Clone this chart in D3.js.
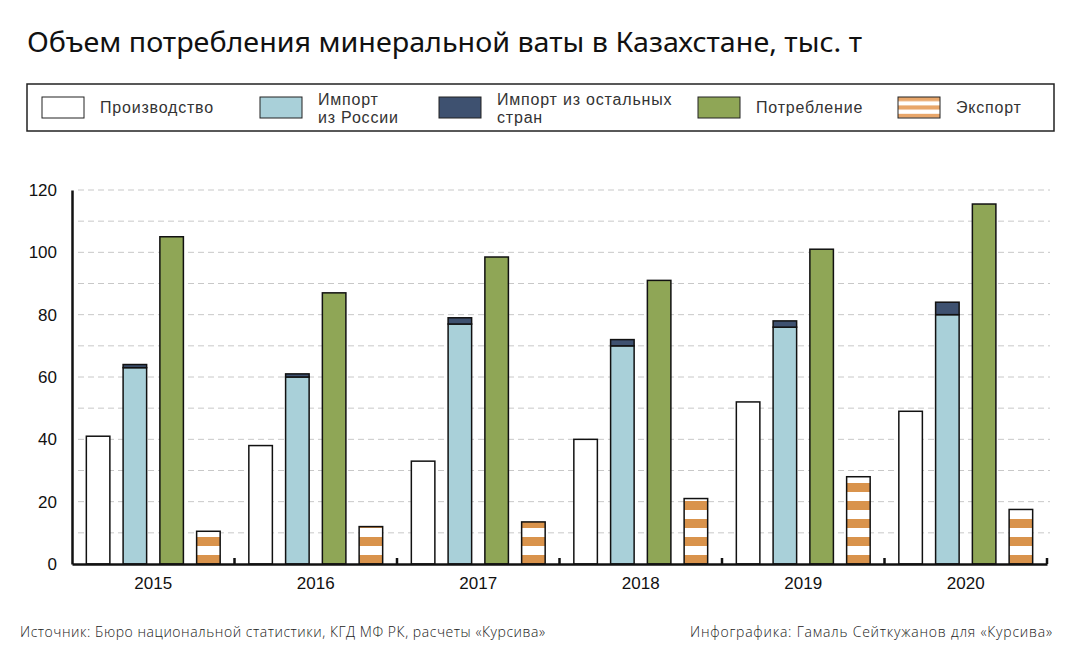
<!DOCTYPE html>
<html>
<head>
<meta charset="utf-8">
<script src="https://cdn.jsdelivr.net/npm/d3@7"></script>
<style>
  body { margin: 0; background: #fff; }
  svg { display: block; }
</style>
</head>
<body>
<svg id="chart" width="1082" height="649"></svg>
<script>
// Data (тыс. т)
const years = ['2015', '2016', '2017', '2018', '2019', '2020'];
const production = [41, 38, 33, 40, 52, 49];
const importRussia = [63, 60, 77, 70, 76, 80];
const importOther = [1, 1, 2, 2, 2, 4];
const consumption = [105, 87, 98.5, 91, 101, 115.5];
const exportVals = [10.5, 12, 13.5, 21, 28, 17.5];
const yTicks = [0, 20, 40, 60, 80, 100, 120];

const colors = {
  production: '#ffffff',
  russia: '#a9d0d9',
  other: '#3e5170',
  consumption: '#8fa656',
  export: '#d9934c'
};

const svg = d3.select('#chart');
const margin = { left: 72, right: 35, top: 190, bottom: 85 };
const width = 1082;
const height = 649;
const x0 = margin.left, x1 = width - margin.right;
const yBase = height - margin.bottom;

const x = d3.scaleBand().domain(years).range([x0, x1]).padding(0);
const xs = d3.scaleBand()
  .domain(['prod', 'imp', 'cons', 'exp'])
  .range([0, x.bandwidth()])
  .paddingInner(0.36)
  .paddingOuter(0.39);
const y = d3.scaleLinear().domain([0, 120]).range([yBase, margin.top]);

// stripe pattern for export, anchored to the baseline
const defs = svg.append('defs');
const pat = defs.append('pattern')
  .attr('id', 'stripes')
  .attr('patternUnits', 'userSpaceOnUse')
  .attr('x', 0).attr('y', yBase)
  .attr('width', 10).attr('height', 18);
pat.append('rect').attr('width', 10).attr('height', 18).attr('fill', '#fff');
pat.append('rect').attr('y', 9).attr('width', 10).attr('height', 9).attr('fill', colors.export);

const legPat = defs.append('pattern')
  .attr('id', 'stripesLegend')
  .attr('patternUnits', 'userSpaceOnUse')
  .attr('x', 0).attr('y', 97)
  .attr('width', 10).attr('height', 8.4);
legPat.append('rect').attr('width', 10).attr('height', 8.4).attr('fill', '#e8a66a');
legPat.append('rect').attr('y', 4.2).attr('width', 10).attr('height', 4.2).attr('fill', '#fff');

// Title
svg.append('text')
  .attr('x', 27).attr('y', 52)
  .attr('textLength', 835)
  .attr('lengthAdjust', 'spacingAndGlyphs')
  .style('font-family', '"Noto Sans", sans-serif')
  .style('font-size', '28px')
  .style('font-weight', 400)
  .style('fill', '#111')
  .text('Объем потребления минеральной ваты в Казахстане, тыс. т');

// Legend
svg.append('rect')
  .attr('x', 27).attr('y', 84).attr('width', 1027).attr('height', 47)
  .attr('fill', '#fff').attr('stroke', '#222').attr('stroke-width', 1.5);

const legendItems = [
  { x: 42, fill: colors.production, lines: ['Производство'] },
  { x: 260, fill: colors.russia, lines: ['Импорт', 'из России'] },
  { x: 439, fill: colors.other, lines: ['Импорт из остальных', 'стран'] },
  { x: 698, fill: colors.consumption, lines: ['Потребление'] },
  { x: 898, fill: 'url(#stripesLegend)', lines: ['Экспорт'] }
];
const lg = svg.append('g');
legendItems.forEach(d => {
  lg.append('rect')
    .attr('x', d.x).attr('y', 97).attr('width', 42).attr('height', 21)
    .attr('fill', d.fill).attr('stroke', '#222').attr('stroke-width', 1);
  const t = lg.append('text')
    .attr('x', d.x + 58)
    .style('font-family', '"Liberation Sans", Arial, sans-serif')
    .style('font-size', '16px')
    .style('letter-spacing', '0.8px')
    .style('fill', '#333');
  if (d.lines.length === 1) {
    t.attr('y', 113).text(d.lines[0]);
  } else {
    t.append('tspan').attr('x', d.x + 58).attr('y', 105).text(d.lines[0]);
    t.append('tspan').attr('x', d.x + 58).attr('y', 123).text(d.lines[1]);
  }
});

// Gridlines every 10
const grid = d3.range(10, 121, 10);
svg.append('g')
  .selectAll('line')
  .data(grid)
  .join('line')
  .attr('x1', x0 + 6).attr('x2', x1 + 3)
  .attr('y1', d => y(d)).attr('y2', d => y(d))
  .attr('stroke', '#c8c8c8')
  .attr('stroke-width', 1)
  .attr('stroke-dasharray', '6,4');

// Bars
const groups = svg.append('g')
  .selectAll('g')
  .data(years)
  .join('g')
  .attr('transform', d => `translate(${x(d)},0)`);

const bw = xs.bandwidth();
const barStroke = '#111';

groups.append('rect')
  .attr('x', xs('prod')).attr('width', bw)
  .attr('y', (d, i) => y(production[i]))
  .attr('height', (d, i) => yBase - y(production[i]))
  .attr('fill', colors.production).attr('stroke', barStroke).attr('stroke-width', 1.5);

groups.append('rect')
  .attr('x', xs('imp')).attr('width', bw)
  .attr('y', (d, i) => y(importRussia[i]))
  .attr('height', (d, i) => yBase - y(importRussia[i]))
  .attr('fill', colors.russia).attr('stroke', barStroke).attr('stroke-width', 1.5);

groups.append('rect')
  .attr('x', xs('imp')).attr('width', bw)
  .attr('y', (d, i) => y(importRussia[i] + importOther[i]))
  .attr('height', (d, i) => y(importRussia[i]) - y(importRussia[i] + importOther[i]))
  .attr('fill', colors.other).attr('stroke', barStroke).attr('stroke-width', 1.5);

groups.append('rect')
  .attr('x', xs('cons')).attr('width', bw)
  .attr('y', (d, i) => y(consumption[i]))
  .attr('height', (d, i) => yBase - y(consumption[i]))
  .attr('fill', colors.consumption).attr('stroke', barStroke).attr('stroke-width', 1.5);

groups.append('rect')
  .attr('x', xs('exp')).attr('width', bw)
  .attr('y', (d, i) => y(exportVals[i]))
  .attr('height', (d, i) => yBase - y(exportVals[i]))
  .attr('fill', 'url(#stripes)').attr('stroke', barStroke).attr('stroke-width', 1.5);

// Y axis
const yAxis = svg.append('g').attr('transform', `translate(${x0},0)`)
  .call(d3.axisLeft(y).tickValues(yTicks).tickSize(0).tickPadding(15));
yAxis.select('.domain').attr('stroke', '#111').attr('stroke-width', 2.5);
yAxis.selectAll('text')
  .style('font-family', '"Liberation Sans", Arial, sans-serif')
  .style('font-size', '17px')
  .style('fill', '#111');

// X axis
const xAxis = svg.append('g').attr('transform', `translate(0,${yBase})`)
  .call(d3.axisBottom(x).tickSize(0).tickPadding(13));
xAxis.select('.domain').attr('stroke', '#111').attr('stroke-width', 2.5);
xAxis.selectAll('text')
  .style('font-family', '"Liberation Sans", Arial, sans-serif')
  .style('font-size', '17px')
  .style('fill', '#111');

// small separators between year groups
svg.append('g')
  .selectAll('line')
  .data(years.slice(1).concat(['end']))
  .join('line')
  .attr('x1', d => d === 'end' ? x1 : x(d))
  .attr('x2', d => d === 'end' ? x1 : x(d))
  .attr('y1', yBase).attr('y2', yBase - 6)
  .attr('stroke', '#111').attr('stroke-width', 2.5);

// Footer
const foot = {
  'font-family': '"Open Sans", sans-serif',
  'font-size': '14px',
  'font-weight': 300,
  fill: '#222'
};
const f1 = svg.append('text').attr('x', 20).attr('y', 637)
  .attr('textLength', 525).attr('lengthAdjust', 'spacing')
  .text('Источник: Бюро национальной статистики, КГД МФ РК, расчеты «Курсива»');
const f2 = svg.append('text').attr('x', 690).attr('y', 637)
  .attr('textLength', 362).attr('lengthAdjust', 'spacing')
  .text('Инфографика: Гамаль Сейткужанов для «Курсива»');
[f1, f2].forEach(t => Object.entries(foot).forEach(([k, v]) => t.style(k, v)));
</script>
</body>
</html>
